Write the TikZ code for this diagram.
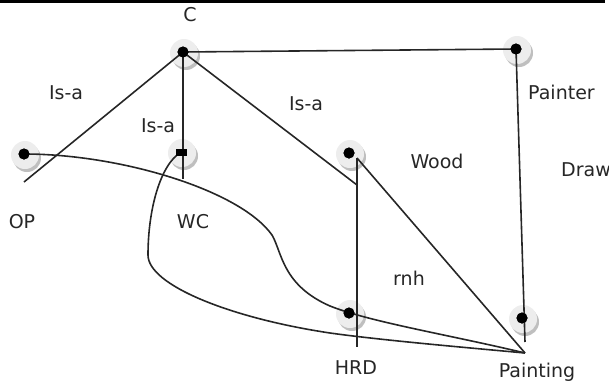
\documentclass[tikz,border=0pt]{standalone}
\usepackage{fontspec}
\setmainfont{DejaVu Sans}
\begin{document}
\begin{tikzpicture}[x=1pt,y=-1pt,
  dot/.style={circle,fill=black,minimum size=11pt,inner sep=0pt},
  wcmark/.style={rectangle,fill=black,minimum width=11pt,minimum height=7pt,inner sep=0pt},
  lbl/.style={font=\fontsize{19}{21}\selectfont,text=black!85,inner sep=0pt},
  edge/.style={line width=1.6pt,draw=black!85},
]
\useasboundingbox (0,0) rectangle (609,388);
\clip (0,0) rectangle (609,388);
% top rule
\coordinate (tl) at (0,1.5);
\coordinate (tr) at (605,1.5);
\draw[line width=2.5pt] (tl) -- (tr);
% halos
\foreach \x/\y in {183/52,516/49,24/154,181/152,349/153,349/313,522/318}{
  \fill[black!25] (\x+3,\y+4) circle (14);
  \fill[black!7] (\x+1,\y+1) circle (14);
}
% nodes
\node[dot] (C) at (183,52) {};
\node[dot] (Painter) at (516,49) {};
\node[dot] (OP) at (24,154) {};
\node[wcmark] (WC) at (181,152) {};
\node[dot] (Wood) at (349,153) {};
\node[dot] (HRD) at (349,313) {};
\node[dot] (Painting) at (522,318) {};
% free ends
\coordinate (pe) at (525,342);
\coordinate (ope) at (24,182);
\coordinate (wce) at (183,179);
\coordinate (we) at (357,185);
\coordinate (wt) at (357,158);
\coordinate (hb) at (357,347);
\coordinate (pc) at (525,353);
% edges
\draw[edge] (C.center) -- (Painter.center);
\draw[edge] (Painter.center) -- (pe);
\draw[edge] (C.center) -- (ope);
\draw[edge] (C.center) -- (wce);
\draw[edge] (C.center) -- (we);
\draw[edge] (wt) -- (hb);
\draw[edge] (wt) -- (pc);
\draw[edge] (OP.center) .. controls (120,154) and (240,190) .. (272,235)
   .. controls (282,252) and (282,285) .. (330,306)
   .. controls (370,322) and (450,335) .. (pc);
\draw[edge] (WC.center) .. controls (160,165) and (148,210) .. (148,255)
   .. controls (148,285) and (230,318) .. (330,333)
   .. controls (380,340) and (460,347) .. (pc);
% redraw dots on top
\foreach \n in {C,Painter,OP,Wood,HRD,Painting}{\fill (\n) circle (5.5);}
\fill (WC.center) ++(-5.5,-3.5) rectangle ++(11,7);
% labels
\node[lbl] (lC) at (190,15) {C};
\node[lbl] (isa1) at (66,93) {Is-a};
\node[lbl] (isa2) at (158,126) {Is-a};
\node[lbl] (isa3) at (306,104) {Is-a};
\node[lbl,anchor=west] (lPainter) at (528,92) {Painter};
\node[lbl,anchor=west] (lDraw) at (561,170) {Draw};
\node[lbl] (lWood) at (437,161) {Wood};
\node[lbl] (lOP) at (22,222) {OP};
\node[lbl] (lWC) at (193,222) {WC};
\node[lbl] (lrnh) at (409,278) {rnh};
\node[lbl] (lHRD) at (356,368) {HRD};
\node[lbl] (lPainting) at (537,372) {Painting};
\end{tikzpicture}
\end{document}
